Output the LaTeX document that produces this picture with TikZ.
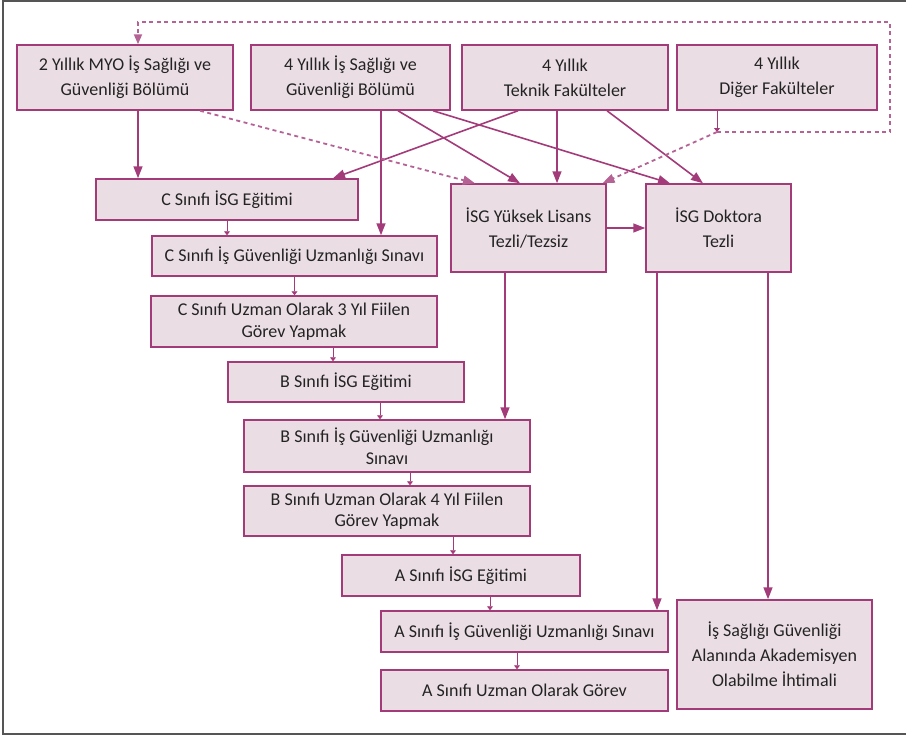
\documentclass[tikz,border=0pt]{standalone}
\usepackage{fontspec}
\setmainfont{Carlito}
\usetikzlibrary{arrows.meta}
\definecolor{plum}{RGB}{163,59,122}
\definecolor{plumfill}{RGB}{234,222,228}
\definecolor{ink}{RGB}{35,35,35}
\definecolor{framegray}{RGB}{85,85,85}
\tikzset{ box/.style  = { rectangle
                        , draw       = plum
                        , fill       = plumfill
                        , line width = 1.5pt
                        , inner sep  = 0pt
                        , align      = center
                        , text       = ink
                        , font       = \fontsize{18}{25}\selectfont
                        },
          tight/.style = { font = \fontsize{18}{21.5}\selectfont
                         },
          arr/.style  = { draw       = plum
                        , line width = 1.6pt
                        , -{Triangle[length=12pt, width=9pt]}
                        },
          darr/.style = { arr
                        , draw         = plum!80
                        , line width   = 1.8pt
                        , dash pattern = on 4pt off 3.5pt
                        },
          sarr/.style = { draw       = plum
                        , line width = 0.9pt
                        , -{Triangle[length=4pt, width=6pt]}
                        }
        }
\begin{document}
\begin{tikzpicture}[x=1pt, y=-1pt]
    \useasboundingbox (0,0) rectangle (906,736);
    % frame
    \draw[framegray, line width=2pt] (912,1) -- (3,1) -- (3,734) -- (912,734);

    % top row
    \node[box, minimum width=216pt, minimum height=65pt] (myo)  at (125,77.5)   {2 Yıllık MYO İş Sağlığı ve\\Güvenliği Bölümü};
    \node[box, minimum width=199pt, minimum height=65pt] (isg4) at (350.5,77.5) {4 Yıllık İş Sağlığı ve\\Güvenliği Bölümü};
    \node[box, minimum width=206pt, minimum height=65pt] (tek)  at (565,77.5)   {4 Yıllık\\Teknik Fakülteler};
    \node[box, minimum width=200pt, minimum height=65pt] (dig)  at (777,77.5)   {4 Yıllık\\Diğer Fakülteler};

    % C / B / A chain
    \node[box, minimum width=262pt, minimum height=41pt] (cegt) at (227,199.5)   {C Sınıfı İSG Eğitimi};
    \node[box, minimum width=285pt, minimum height=40pt] (csnv) at (294.5,256)   {C Sınıfı İş Güvenliği Uzmanlığı Sınavı};
    \node[box, tight, minimum width=286pt, minimum height=51pt] (cuzm) at (294,321.5) {C Sınıfı Uzman Olarak 3 Yıl Fiilen\\Görev Yapmak};
    \node[box, minimum width=236pt, minimum height=40pt] (begt) at (346,382)     {B Sınıfı İSG Eğitimi};
    \node[box, tight, minimum width=286pt, minimum height=52pt] (bsnv) at (387,446)   {B Sınıfı İş Güvenliği Uzmanlığı\\Sınavı};
    \node[box, tight, minimum width=286pt, minimum height=50pt] (buzm) at (387,511)   {B Sınıfı Uzman Olarak 4 Yıl Fiilen\\Görev Yapmak};
    \node[box, minimum width=238pt, minimum height=41pt] (aegt) at (461,575.5)   {A Sınıfı İSG Eğitimi};
    \node[box, minimum width=287pt, minimum height=41pt] (asnv) at (524.5,631.5) {A Sınıfı İş Güvenliği Uzmanlığı Sınavı};
    \node[box, minimum width=287pt, minimum height=41pt] (auzm) at (524.5,690.5) {A Sınıfı Uzman Olarak Görev};

    % academic path
    \node[box, minimum width=155pt, minimum height=88pt]  (yl)  at (528.5,228)   {İSG Yüksek Lisans\\Tezli/Tezsiz};
    \node[box, minimum width=145pt, minimum height=88pt]  (dok) at (718.5,228)   {İSG Doktora\\Tezli};
    \node[box, minimum width=195pt, minimum height=109pt] (akd) at (774.5,654.5) {İş Sağlığı Güvenliği\\Alanında Akademisyen\\Olabilme İhtimali};

    \coordinate (jn) at (717,132);
    \coordinate (ne) at (890,22);

    % solid arrows from the top row
    \draw[arr] ([xshift=13pt]myo.south)   -- ([xshift=13pt]myo.south |- cegt.north);
    \draw[arr] ([xshift=30.5pt]isg4.south) -- ([xshift=30.5pt]isg4.south |- csnv.north);
    \draw[arr] ([xshift=-47pt]tek.south)  -- ([xshift=106pt]cegt.north);
    \draw[arr] ([xshift=47.5pt]isg4.south) -- ([xshift=-8.5pt]yl.north);
    \draw[arr] ([xshift=82.5pt]isg4.south) -- ([xshift=-48.5pt]dok.north);
    \draw[arr] ([xshift=-8pt]tek.south)   -- ([xshift=-8pt]tek.south |- yl.north);
    \draw[arr] ([xshift=42pt]tek.south)   -- ([xshift=-15.5pt]dok.north);
    \draw[arr] (yl.east) -- (dok.west);
    \draw[arr] ([xshift=-23.5pt]yl.south) -- ([xshift=-23.5pt]yl.south |- bsnv.north);
    \draw[arr] ([xshift=-61.5pt]dok.south) -- ([xshift=-61.5pt]dok.south |- asnv.north);
    \draw[arr] ([xshift=49.5pt]dok.south) -- ([xshift=49.5pt]dok.south |- akd.north);

    % dashed arrows
    \draw[darr] ([xshift=75pt]myo.south) -- ([xshift=-53.5pt]yl.north);
    \draw[sarr] ([xshift=-60pt]dig.south) -- (jn);
    \draw[darr] (jn) -- ([xshift=74pt]yl.north);
    \draw[darr, -{Triangle[length=10pt, width=8pt]}] (jn) -| (ne) -| ([xshift=13pt]myo.north);

    % small chain arrows
    \draw[sarr] (cegt.south) -- (cegt.south |- csnv.north);
    \draw[sarr] (csnv.south) -- (csnv.south |- cuzm.north);
    \draw[sarr] ([xshift=39pt]cuzm.south) -- ([xshift=39pt]cuzm.south |- begt.north);
    \draw[sarr] ([xshift=34pt]begt.south) -- ([xshift=34pt]begt.south |- bsnv.north);
    \draw[sarr] ([xshift=23pt]bsnv.south) -- ([xshift=23pt]bsnv.south |- buzm.north);
    \draw[sarr] ([xshift=66pt]buzm.south) -- ([xshift=66pt]buzm.south |- aegt.north);
    \draw[sarr] ([xshift=29pt]aegt.south) -- ([xshift=29pt]aegt.south |- asnv.north);
    \draw[sarr] ([xshift=-7.5pt]asnv.south) -- ([xshift=-7.5pt]asnv.south |- auzm.north);
\end{tikzpicture}
\end{document}
